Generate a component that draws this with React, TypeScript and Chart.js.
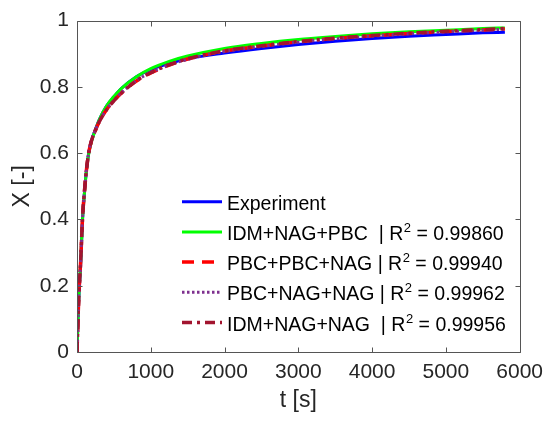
import { useEffect, useRef } from 'react';
import { Chart, registerables } from 'chart.js';

Chart.register(...registerables);

// ---- data ----
const timeS = [0, 10, 25, 50, 75, 100, 130, 160, 200, 250, 300, 400, 500, 600, 800, 1000, 1250, 1500, 2000, 2500, 3000, 3500, 4000, 4500, 5000, 5500, 5800];
const experiment = [0, 0.07, 0.165, 0.265, 0.40, 0.478, 0.553, 0.602, 0.640, 0.672, 0.700, 0.742, 0.770, 0.795, 0.830, 0.852, 0.871, 0.885, 0.902, 0.916, 0.928, 0.938, 0.946, 0.953, 0.958, 0.963, 0.965];
const idmNagPbc = [0, 0.07, 0.168, 0.27, 0.40, 0.478, 0.552, 0.600, 0.638, 0.670, 0.700, 0.742, 0.771, 0.795, 0.830, 0.855, 0.877, 0.893, 0.916, 0.931, 0.943, 0.952, 0.960, 0.966, 0.971, 0.976, 0.978];
const pbcPbcNag = [0, 0.072, 0.17, 0.275, 0.405, 0.482, 0.553, 0.603, 0.640, 0.669, 0.694, 0.731, 0.758, 0.781, 0.817, 0.842, 0.866, 0.884, 0.908, 0.923, 0.936, 0.946, 0.954, 0.961, 0.967, 0.972, 0.975];
const pbcNagNag = [0, 0.072, 0.17, 0.275, 0.405, 0.482, 0.554, 0.604, 0.641, 0.670, 0.695, 0.732, 0.759, 0.782, 0.818, 0.843, 0.866, 0.883, 0.907, 0.922, 0.935, 0.945, 0.953, 0.960, 0.966, 0.971, 0.974];
const idmNagNag = [0, 0.072, 0.17, 0.275, 0.405, 0.482, 0.553, 0.603, 0.640, 0.669, 0.694, 0.731, 0.758, 0.781, 0.818, 0.843, 0.867, 0.885, 0.909, 0.924, 0.937, 0.947, 0.955, 0.962, 0.968, 0.973, 0.976];

const seriesNames = ['Experiment', 'IDM+NAG+PBC ', 'PBC+PBC+NAG', 'PBC+NAG+NAG', 'IDM+NAG+NAG '];
const rSquared: (number | null)[] = [null, 0.9986, 0.9994, 0.99962, 0.99956];

const xTickValues = [0, 1000, 2000, 3000, 4000, 5000, 6000];
const yTickValues = [0, 0.2, 0.4, 0.6, 0.8, 1];

const FONT = '"Liberation Sans", Arial, Helvetica, sans-serif';
const TEXT = '#262626';
const AXIS = '#555555';

const toPoints = (ys: number[]) => timeS.map((t, i) => ({ x: t, y: ys[i] }));

const boxPlugin = {
  id: 'matlabBox',
  afterDatasetsDraw(chart: any) {
    const { ctx, chartArea } = chart;
    const { left, right, top, bottom } = chartArea;
    const xs = chart.scales.x;
    const ys = chart.scales.y;
    const L = Math.round(left) + 0.5;
    const R = Math.round(right) + 0.5;
    const T = Math.round(top) + 0.5;
    const B = Math.round(bottom) + 0.5;
    const tl = 5;
    ctx.save();
    ctx.strokeStyle = AXIS;
    ctx.lineWidth = 1;
    ctx.setLineDash([]);
    ctx.beginPath();
    ctx.rect(L, T, R - L, B - T);
    ctx.stroke();
    ctx.beginPath();
    xTickValues.forEach((v) => {
      const px = Math.round(xs.getPixelForValue(v)) + 0.5;
      ctx.moveTo(px, B);
      ctx.lineTo(px, B - tl);
      ctx.moveTo(px, T);
      ctx.lineTo(px, T + tl);
    });
    yTickValues.forEach((v) => {
      const py = Math.round(ys.getPixelForValue(v)) + 0.5;
      ctx.moveTo(L, py);
      ctx.lineTo(L + tl, py);
      ctx.moveTo(R, py);
      ctx.lineTo(R - tl, py);
    });
    ctx.stroke();
    ctx.restore();
  },
  afterDraw(chart: any) {
    const { ctx } = chart;
    const x0 = 182;
    const x1 = 222;
    const tx = 227;
    const y0 = 201.7;
    const dy = 30.2;
    ctx.save();
    chart.data.datasets.forEach((ds: any, i: number) => {
      const y = y0 + i * dy;
      ctx.strokeStyle = ds.borderColor;
      ctx.lineWidth = ds.borderWidth;
      ctx.setLineDash(ds.borderDash || []);
      ctx.lineCap = 'butt';
      ctx.beginPath();
      ctx.moveTo(x0, y);
      ctx.lineTo(x1, y);
      ctx.stroke();
      ctx.setLineDash([]);
      ctx.fillStyle = '#000000';
      ctx.textBaseline = 'alphabetic';
      ctx.textAlign = 'left';
      ctx.font = `19.5px ${FONT}`;
      const base = y + 8;
      const r2 = rSquared[i];
      if (r2 === null) {
        ctx.fillText(ds.label, tx, base);
      } else {
        const head = `${ds.label} | R`;
        ctx.fillText(head, tx, base);
        let cx = tx + ctx.measureText(head).width;
        ctx.font = `13px ${FONT}`;
        ctx.fillText('2', cx + 0.5, base - 8);
        cx += ctx.measureText('2').width + 0.5;
        ctx.font = `19.5px ${FONT}`;
        ctx.fillText(` = ${r2.toFixed(5)}`, cx, base);
      }
    });
    ctx.restore();
  },
};

export default function App() {
  const ref = useRef<HTMLCanvasElement | null>(null);
  useEffect(() => {
    if (!ref.current) return;
    const common = { pointRadius: 0, fill: false, cubicInterpolationMode: 'monotone' as const };
    const chart = new Chart(ref.current, {
      type: 'line',
      data: {
        datasets: [
          { ...common, label: seriesNames[0], data: toPoints(experiment), borderColor: '#0000ff', borderWidth: 3, order: 4 },
          { ...common, label: seriesNames[1], data: toPoints(idmNagPbc), borderColor: '#00ff00', borderWidth: 3, order: 3 },
          { ...common, label: seriesNames[2], data: toPoints(pbcPbcNag), borderColor: '#ff0000', borderWidth: 3.5, borderDash: [12, 8], order: 2 },
          { ...common, label: seriesNames[3], data: toPoints(pbcNagNag), borderColor: '#7e2f8e', borderWidth: 3, borderDash: [2.5, 2.5], order: 1 },
          { ...common, label: seriesNames[4], data: toPoints(idmNagNag), borderColor: '#a2142f', borderWidth: 3.5, borderDash: [10, 5, 3, 5], order: 0 },
        ],
      },
      options: {
        responsive: false,
        animation: false,
        devicePixelRatio: 1,
        layout: { padding: { left: 0, top: 17, right: 27, bottom: 0 } },
        plugins: { legend: { display: false }, tooltip: { enabled: false }, title: { display: false } },
        scales: {
          x: {
            type: 'linear',
            min: 0,
            max: 6000,
            grid: { display: false, drawTicks: false },
            border: { display: false },
            afterBuildTicks: (s: any) => { s.ticks = xTickValues.map((v) => ({ value: v })); },
            afterFit: (s: any) => { s.height = 69; },
            ticks: {
              padding: 8,
              color: TEXT,
              font: { family: FONT, size: 21 },
              maxRotation: 0,
              autoSkip: false,
              callback: (v: any) => String(v),
            },
            title: { display: true, text: 't [s]', color: TEXT, font: { family: FONT, size: 23 }, padding: { top: 0, bottom: 7 } },
          },
          y: {
            type: 'linear',
            min: 0,
            max: 1,
            grid: { display: false, drawTicks: false },
            border: { display: false },
            afterBuildTicks: (s: any) => { s.ticks = yTickValues.map((v) => ({ value: v })); },
            afterFit: (s: any) => { s.width = 77; },
            ticks: {
              padding: 8,
              color: TEXT,
              font: { family: FONT, size: 21 },
              autoSkip: false,
              callback: (v: any) => String(Math.round(v * 10) / 10),
            },
            title: { display: true, text: 'X [-]', color: TEXT, font: { family: FONT, size: 23 }, padding: { top: 9, bottom: 0 } },
          },
        },
      },
      plugins: [boxPlugin],
    });
    return () => chart.destroy();
  }, []);
  return (
    <div style={{ position: 'absolute', left: 0, top: 0, width: 551, height: 421, background: '#ffffff' }}>
      <canvas ref={ref} width={551} height={421} style={{ display: 'block' }} />
    </div>
  );
}
